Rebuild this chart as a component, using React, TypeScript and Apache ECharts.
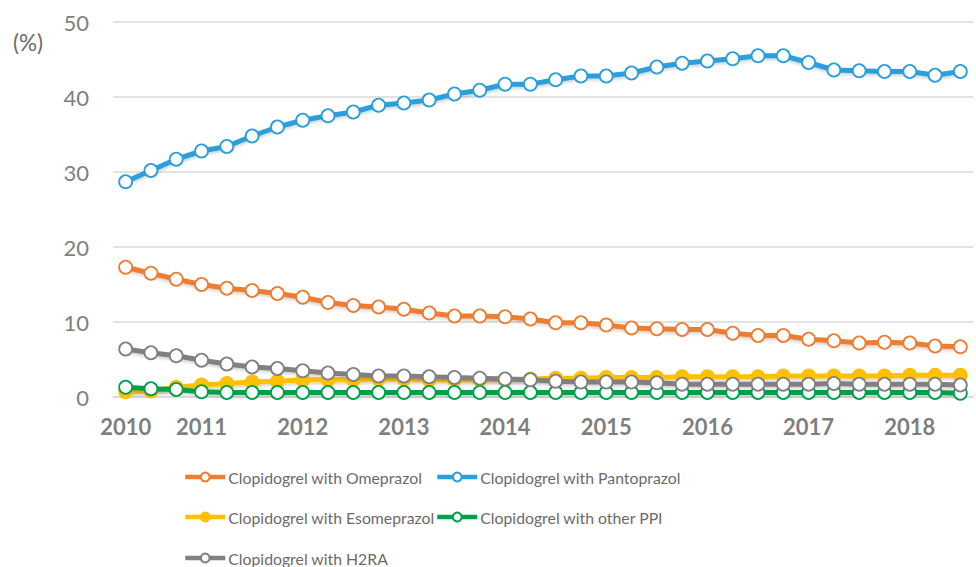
import React, { useEffect, useRef } from "react";
import * as echarts from "echarts";

const quarters: string[] = [
  "2010 Q2", "2010 Q3", "2010 Q4",
  "2011 Q1", "2011 Q2", "2011 Q3", "2011 Q4",
  "2012 Q1", "2012 Q2", "2012 Q3", "2012 Q4",
  "2013 Q1", "2013 Q2", "2013 Q3", "2013 Q4",
  "2014 Q1", "2014 Q2", "2014 Q3", "2014 Q4",
  "2015 Q1", "2015 Q2", "2015 Q3", "2015 Q4",
  "2016 Q1", "2016 Q2", "2016 Q3", "2016 Q4",
  "2017 Q1", "2017 Q2", "2017 Q3", "2017 Q4",
  "2018 Q1", "2018 Q2", "2018 Q3",
];

const omeprazol: number[] = [
  17.3, 16.5, 15.7, 15.0, 14.5, 14.2, 13.8, 13.3, 12.6, 12.2, 12.0, 11.7,
  11.2, 10.8, 10.8, 10.7, 10.4, 9.9, 9.9, 9.6, 9.2, 9.1, 9.0, 9.0, 8.5, 8.2,
  8.2, 7.7, 7.5, 7.2, 7.3, 7.2, 6.8, 6.7,
];

const pantoprazol: number[] = [
  28.7, 30.2, 31.7, 32.8, 33.4, 34.8, 36.0, 36.9, 37.5, 38.0, 38.9, 39.2,
  39.6, 40.4, 40.9, 41.7, 41.7, 42.3, 42.8, 42.8, 43.2, 44.0, 44.5, 44.8,
  45.1, 45.5, 45.5, 44.6, 43.6, 43.5, 43.4, 43.4, 42.9, 43.4,
];

const esomeprazol: number[] = [
  0.7, 0.8, 1.3, 1.6, 1.8, 2.0, 2.1, 2.3, 2.3, 2.3, 2.4, 2.4, 2.3, 2.3, 2.3,
  2.3, 2.4, 2.5, 2.5, 2.6, 2.6, 2.6, 2.7, 2.7, 2.7, 2.7, 2.8, 2.8, 2.8, 2.8,
  2.8, 2.9, 2.9, 2.9,
];

const otherPPI: number[] = [
  1.3, 1.1, 1.0, 0.7, 0.6, 0.6, 0.6, 0.6, 0.6, 0.6, 0.6, 0.6, 0.6, 0.6, 0.6,
  0.6, 0.6, 0.6, 0.6, 0.6, 0.6, 0.6, 0.6, 0.6, 0.6, 0.6, 0.6, 0.6, 0.6, 0.6,
  0.6, 0.6, 0.6, 0.5,
];

const h2ra: number[] = [
  6.4, 5.9, 5.5, 4.9, 4.4, 4.0, 3.8, 3.5, 3.2, 3.0, 2.8, 2.8, 2.7, 2.6, 2.5,
  2.4, 2.3, 2.1, 2.0, 2.0, 2.0, 1.9, 1.7, 1.7, 1.7, 1.7, 1.7, 1.7, 1.8, 1.7,
  1.7, 1.7, 1.7, 1.6,
];

const seriesNames: string[] = [
  "Clopidogrel with Omeprazol",
  "Clopidogrel with Pantoprazol",
  "Clopidogrel with Esomeprazol",
  "Clopidogrel with other PPI",
  "Clopidogrel with H2RA",
];

const colors: string[] = ["#ED7D31", "#2A9FDB", "#FFC000", "#00A04A", "#808080"];

// legend slot for each series: [left, top]
const legendSlots: number[][] = [
  [183, 467],
  [435, 467],
  [183, 507],
  [435, 507],
  [183, 548],
];

const FONT = "Lato, 'Open Sans', sans-serif";

export default function App() {
  const ref = useRef<HTMLDivElement>(null);

  useEffect(() => {
    if (!ref.current) return;
    const chart = echarts.init(ref.current, null, { renderer: "svg" });
    const values = [omeprazol, pantoprazol, esomeprazol, otherPPI, h2ra];

    const series = seriesNames.map((name, i) => {
      const filled = i === 2;
      return {
        name,
        type: "line",
        data: values[i],
        symbol: "circle",
        symbolSize: 13,
        showSymbol: true,
        lineStyle: {
          width: 5,
          color: colors[i],
          shadowColor: "rgba(0,0,0,0.18)",
          shadowBlur: 3,
          shadowOffsetY: 2,
        },
        itemStyle: {
          color: filled ? colors[i] : "#ffffff",
          borderColor: colors[i],
          borderWidth: 1.8,
        },
        z: 2 + i,
      };
    });

    const legends = seriesNames.map((name, i) => ({
      orient: "horizontal",
      left: legendSlots[i][0],
      top: legendSlots[i][1],
      padding: 0,
      itemWidth: 40,
      itemHeight: 11,
      data: [name],
      lineStyle: { width: 4.5, shadowBlur: 0, shadowOffsetY: 0 },
      textStyle: {
        color: "#6b6b6b",
        fontSize: 15.8,
        fontFamily: FONT,
        lineHeight: 20,
        padding: [0, 0, 0, -2],
      },
    }));

    chart.setOption({
      animation: false,
      color: colors,
      textStyle: { fontFamily: FONT },
      grid: { left: 113, right: 3, top: 22, bottom: 170, containLabel: false },
      graphic: [
        {
          type: "text",
          left: 13,
          top: 31,
          style: { text: "(%)", fontSize: 22.5, fill: "#6b6b6b", fontFamily: FONT },
        },
      ],
      legend: legends,
      xAxis: {
        type: "category",
        data: quarters,
        boundaryGap: true,
        axisLine: { lineStyle: { color: "#d9d9d9", width: 1.5 } },
        axisTick: { show: false },
        axisLabel: {
          interval: (index: number, value: string) =>
            index === 0 || value.endsWith("Q1"),
          formatter: (value: string) => value.slice(0, 4),
          color: "#7f7f7f",
          fontSize: 22,
          fontWeight: "bold",
          fontFamily: FONT,
          margin: 18,
        },
        splitLine: { show: false },
      },
      yAxis: {
        type: "value",
        min: 0,
        max: 50,
        interval: 10,
        axisLine: { show: false },
        axisTick: { show: false },
        axisLabel: {
          color: "#7f7f7f",
          fontSize: 22,
          fontFamily: FONT,
          margin: 24,
        },
        splitLine: { lineStyle: { color: "#d9d9d9", width: 1.5 } },
      },
      series,
    });

    return () => {
      chart.dispose();
    };
  }, []);

  return (
    <div
      ref={ref}
      style={{ position: "absolute", left: 0, top: 0, width: 976, height: 567 }}
    />
  );
}
